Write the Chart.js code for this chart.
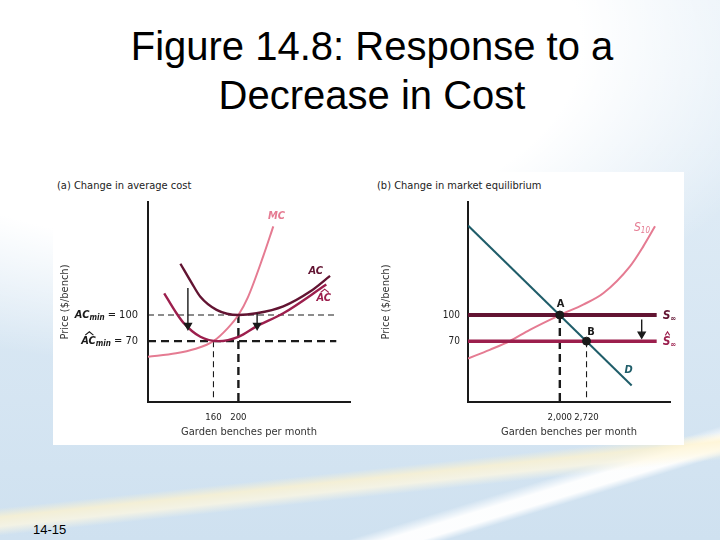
<!DOCTYPE html>
<html lang="en">
<head>
<meta charset="UTF-8">
<title>Figure 14.8</title>
<script src="https://cdn.jsdelivr.net/npm/chart.js"></script>
<style>
  body {
    margin: 0; width: 720px; height: 540px; overflow: hidden; position: relative;
    font-family: Arial, "Liberation Sans", sans-serif;
    background:
      linear-gradient(174deg, rgba(255,255,255,0) 82.5%, rgba(255,243,205,.75) 84%, rgba(255,248,225,.75) 85.5%, rgba(255,255,255,0) 87%),
      linear-gradient(163deg, rgba(255,255,255,0) 85%, rgba(255,255,255,.95) 86.5% 88%, rgba(255,255,255,0) 89%),
      radial-gradient(ellipse 85% 60% at 28% 8%, #fff 62%, rgba(255,255,255,0) 100%),
      linear-gradient(180deg, #e6f0f8, #cfe1f0);
  }
  .titulo { position: absolute; left: 0; top: 22px; width: 744px; text-align: center; font-size: 40px; line-height: 49px; color: #000; }
  .quadro { position: absolute; left: 53px; top: 172px; width: 631px; height: 273px; background: #fff; }
  .cap { position: absolute; top: 180px; font: 11px "Liberation Sans Narrow", "DejaVu Sans Condensed", "Liberation Sans", sans-serif; line-height: 12px; color: #222; }
  .painel { position: absolute; top: 172px; }
  .num { position: absolute; left: 33px; top: 522px; font-size: 13px; color: #000; }
</style>
</head>
<body>
<div class="titulo">Figure 14.8: Response to a<br>Decrease in Cost</div>
<div class="quadro"></div>
<div class="cap" style="left:57px">(a) Change in average cost</div>
<div class="cap" style="left:377px">(b) Change in market equilibrium</div>
<div class="painel" style="left:53px"><canvas id="ga" width="310" height="273"></canvas></div>
<div class="painel" style="left:363px"><canvas id="gb" width="321" height="273"></canvas></div>
<div class="num">14-15</div>

<script>
// painel (a): custos da empresa
const mcX = [55, 100, 130, 160, 183, 200, 215, 240, 256];
const mcY = [52, 56, 61, 70, 85, 100, 120, 168, 202];
const acX = [107, 125, 139, 165, 200, 229, 272, 315, 347];
const acY = [159, 137, 121, 106, 100, 102, 110, 127, 145];
const acHatX = [81, 98, 112, 139, 168, 200, 229, 272, 341];
const acHatY = [125, 105, 91, 75, 70, 75, 87, 102, 135];
const qTicksA = [160, 200];     // quantidade da empresa
const priceLevels = [100, 70];  // ACmin antes e depois

// painel (b): mercado
const dX = [-475, 3937];
const dY = [203, 19];
const s10X = [-475, 111, 651, 1191, 2000, 2630, 3170, 3891, 4250, 4566];
const s10Y = [50, 60, 70, 83, 100, 112, 125, 156, 179, 202];
const qTicksB = [2000, 2720];   // equilibrio A e B

const FONT = '"Liberation Sans Narrow", "DejaVu Sans Condensed", "Liberation Sans", Arial, sans-serif';
const PINK = '#e57b92', MAROON = '#621432', CRIMSON = '#9c1f4d', TEAL = '#1f5d69', INK = '#1a1a1a';

function pts(xs, ys) { return xs.map((x, i) => ({ x: x, y: ys[i] })); }

function curve(data, color, width) {
  return { data: data, borderColor: color, borderWidth: width, pointRadius: 0, cubicInterpolationMode: 'monotone' };
}
function dashed(data, thick) {
  return { data: data, borderColor: INK, borderWidth: thick ? 2.4 : 1.1, borderDash: thick ? [8, 5] : [6, 4], pointRadius: 0 };
}
function arrow(data) {
  return { data: data, borderColor: INK, backgroundColor: INK, borderWidth: 1.4, pointRadius: [0, 4], pointStyle: 'triangle', pointRotation: 180 };
}

function fnt(p) { return (p.it ? 'italic ' : '') + (p.b ? 'bold ' : '') + p.size + 'px ' + FONT; }

// escreve pedacos de texto lado a lado (subscrito, chapeu)
function drawRich(ctx, parts, x, y, align, color) {
  ctx.save();
  ctx.fillStyle = color; ctx.strokeStyle = color;
  ctx.textBaseline = 'middle'; ctx.textAlign = 'left';
  let total = 0;
  const ws = parts.map(p => { ctx.font = fnt(p); const w = ctx.measureText(p.t).width; total += w; return w; });
  let cx = align === 'right' ? x - total : align === 'left' ? x : x - total / 2;
  parts.forEach((p, i) => {
    ctx.font = fnt(p);
    ctx.fillText(p.t, cx, y + (p.dy || 0));
    if (p.hat) {
      const base = y - p.size * 0.55, mid = cx + ws[i] / 2 + p.size * 0.08;
      ctx.lineWidth = 1.1;
      ctx.beginPath();
      ctx.moveTo(mid - ws[i] * 0.28, base);
      ctx.lineTo(mid, base - p.size * 0.3);
      ctx.lineTo(mid + ws[i] * 0.28, base);
      ctx.stroke();
    }
    cx += ws[i];
  });
  ctx.restore();
}

function textos(items, yLabels) {
  return {
    id: 'textos',
    afterDatasetsDraw(chart) {
      const { ctx, chartArea } = chart, x = chart.scales.x, y = chart.scales.y;
      items.forEach(it => drawRich(ctx, it.parts, x.getPixelForValue(it.x), y.getPixelForValue(it.y), it.align || 'center', it.color || INK));
      yLabels.forEach(it => drawRich(ctx, it.parts, chartArea.left - 10, y.getPixelForValue(it.y), 'right', INK));
    }
  };
}

function eixos(xMin, xMax, xTicks, yTicks, yWidth, titlePad) {
  return {
    x: {
      type: 'linear', min: xMin, max: xMax,
      afterBuildTicks: s => { s.ticks = xTicks.map(v => ({ value: v })); },
      afterFit: s => { s.height = 43; },
      grid: { display: false, drawTicks: false },
      border: { color: INK, width: 2 },
      ticks: { padding: 10, autoSkip: false, maxRotation: 0, color: '#222', font: { family: FONT, size: 9.5 }, callback: v => v.toLocaleString('en-US') },
      title: { display: true, text: 'Garden benches per month', color: '#333', font: { family: FONT, size: 11 }, padding: { bottom: 6 } }
    },
    y: {
      type: 'linear', min: 0, max: 230,
      afterBuildTicks: s => { s.ticks = yTicks.map(v => ({ value: v })); },
      afterFit: s => { s.width = yWidth; },
      grid: { display: false, drawTicks: false },
      border: { color: INK, width: 2 },
      ticks: { display: yTicks.length > 0, padding: 8, color: '#222', font: { family: FONT, size: 10 } },
      title: { display: true, text: 'Price ($/bench)', color: '#333', font: { family: FONT, size: 11 }, padding: { top: titlePad } }
    }
  };
}

const baseOpts = {
  responsive: false, animation: false, events: [],
  plugins: { legend: { display: false }, tooltip: { enabled: false } }
};

// ---------- painel (a)
const xEndA = 357;
new Chart(document.getElementById('ga'), {
  type: 'line',
  data: {
    datasets: [
      arrow([{ x: 119, y: 131 }, { x: 119, y: 88 }]),
      arrow([{ x: 230, y: 102 }, { x: 230, y: 88 }]),
      curve(pts(acX, acY), MAROON, 2.4),
      curve(pts(acHatX, acHatY), CRIMSON, 2.4),
      curve(pts(mcX, mcY), PINK, 2),
      dashed([{ x: 55, y: priceLevels[0] }, { x: xEndA, y: priceLevels[0] }], false),
      dashed([{ x: 55, y: priceLevels[1] }, { x: xEndA, y: priceLevels[1] }], true),
      dashed([{ x: qTicksA[0], y: priceLevels[1] }, { x: qTicksA[0], y: 0 }], false),
      dashed([{ x: qTicksA[1], y: priceLevels[0] }, { x: qTicksA[1], y: 0 }], true)
    ]
  },
  options: Object.assign({}, baseOpts, {
    layout: { padding: { top: 30, right: 13 } },
    scales: eixos(55, 379, qTicksA, [], 95, 6)
  }),
  plugins: [textos(
    [
      { x: 261, y: 214, color: PINK, parts: [{ t: 'MC', size: 11, b: 1, it: 1 }] },
      { x: 324, y: 150, color: MAROON, parts: [{ t: 'AC', size: 11, b: 1, it: 1 }] },
      { x: 337, y: 119, color: CRIMSON, parts: [{ t: 'AC', size: 11, b: 1, it: 1, hat: 1 }] }
    ],
    [
      { y: priceLevels[0], parts: [{ t: 'AC', size: 11, b: 1, it: 1 }, { t: 'min', size: 8, b: 1, it: 1, dy: 3 }, { t: ' = 100', size: 11 }] },
      { y: priceLevels[1], parts: [{ t: 'AC', size: 11, b: 1, it: 1, hat: 1 }, { t: 'min', size: 8, b: 1, it: 1, dy: 3 }, { t: ' = 70', size: 11 }] }
    ]
  )]
});

// ---------- painel (b)
const xEndB = 4611;
new Chart(document.getElementById('gb'), {
  type: 'line',
  data: {
    datasets: [
      { data: [{ x: qTicksB[0], y: priceLevels[0] }, { x: qTicksB[1], y: priceLevels[1] }], showLine: false, pointRadius: 4, backgroundColor: INK, borderColor: INK },
      arrow([{ x: 4207, y: 95 }, { x: 4207, y: 78 }]),
      curve(pts(dX, dY), TEAL, 2),
      { data: [{ x: -475, y: priceLevels[0] }, { x: xEndB, y: priceLevels[0] }], borderColor: MAROON, borderWidth: 4, pointRadius: 0 },
      { data: [{ x: -475, y: priceLevels[1] }, { x: xEndB, y: priceLevels[1] }], borderColor: CRIMSON, borderWidth: 3.5, pointRadius: 0 },
      curve(pts(s10X, s10Y), PINK, 2),
      dashed([{ x: qTicksB[0], y: priceLevels[0] }, { x: qTicksB[0], y: 0 }], true),
      dashed([{ x: qTicksB[1], y: priceLevels[1] }, { x: qTicksB[1], y: 0 }], false)
    ]
  },
  options: Object.assign({}, baseOpts, {
    layout: { padding: { top: 30, right: 14 } },
    scales: eixos(-475, 4970, qTicksB, priceLevels, 105, 17)
  }),
  plugins: [textos(
    [
      { x: 4215, y: 200, color: PINK, parts: [{ t: 'S', size: 12, it: 1 }, { t: '10', size: 8, it: 1, dy: 3 }] },
      { x: 4772, y: 99, align: 'left', color: MAROON, parts: [{ t: 'S', size: 12, b: 1, it: 1 }, { t: '∞', size: 8, b: 1, dy: 3 }] },
      { x: 4772, y: 69, align: 'left', color: CRIMSON, parts: [{ t: 'S', size: 12, b: 1, it: 1, hat: 1 }, { t: '∞', size: 8, b: 1, dy: 3 }] },
      { x: 3857, y: 37, color: TEAL, parts: [{ t: 'D', size: 11, b: 1, it: 1 }] },
      { x: 2022, y: 113, color: INK, parts: [{ t: 'A', size: 11, b: 1 }] },
      { x: 2838, y: 80, color: INK, parts: [{ t: 'B', size: 11, b: 1 }] }
    ],
    []
  )]
});
</script>
</body>
</html>
